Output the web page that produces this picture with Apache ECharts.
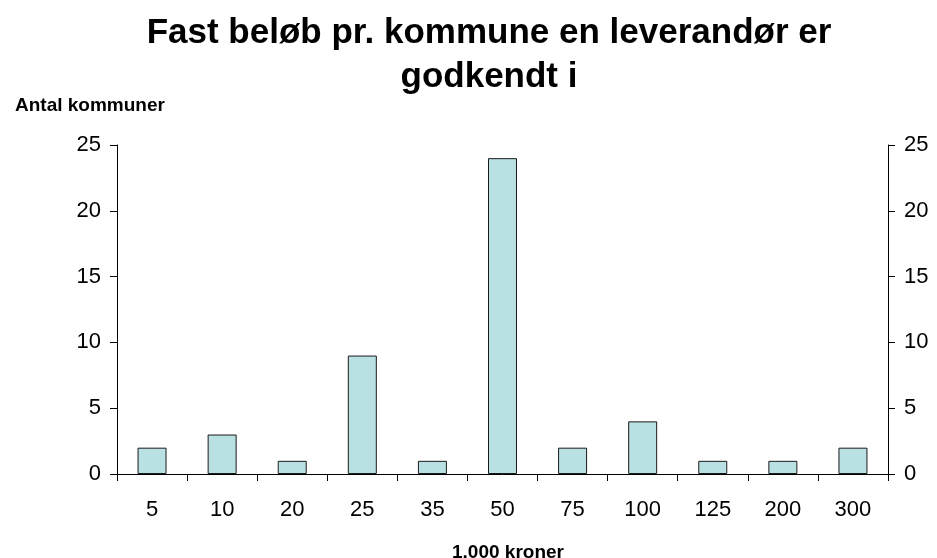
<!DOCTYPE html>
<html><head><meta charset="utf-8">
<script src="https://cdn.jsdelivr.net/npm/echarts@6/dist/echarts.min.js"></script>
<style>html,body{margin:0;padding:0;background:#fff}#c{width:937px;height:558px}</style>
</head><body><div id="c"></div>
<script>
const categories = ['5','10','20','25','35','50','75','100','125','200','300'];
const values = [2,3,1,9,1,24,2,4,1,1,2];
const yTicks = [0,5,10,15,20,25];

const chart = echarts.init(document.getElementById('c'));
const font = 'Liberation Sans, Arial, sans-serif';
const yAxisCommon = {
  type:'value', min:yTicks[0], max:yTicks[yTicks.length-1], interval:yTicks[1]-yTicks[0],
  axisLine:{show:true, lineStyle:{color:'#000', width:1}},
  axisTick:{show:true, inside:false, length:7, lineStyle:{color:'#000'}},
  splitLine:{show:false},
  axisLabel:{fontFamily:font, fontSize:22, color:'#000', margin:16}
};
chart.setOption({
  animation:false,
  title:[{
    text:'Fast beløb pr. kommune en leverandør er\ngodkendt i',
    left:484, top:6, textAlign:'center',
    textStyle:{fontFamily:font, fontSize:35, fontWeight:'bold', color:'#000', lineHeight:44}
  },{
    text:'Antal kommuner', left:10, top:91,
    textStyle:{fontFamily:font, fontSize:19, fontWeight:'bold', color:'#000'}
  },{
    text:'1.000 kroner', left:503, top:538, textAlign:'center',
    textStyle:{fontFamily:font, fontSize:19, fontWeight:'bold', color:'#000'}
  }],
  grid:{left:117, right:49, top:145, bottom:84, containLabel:false},
  xAxis:{
    type:'category', data:categories,
    axisLine:{lineStyle:{color:'#000'}},
    axisTick:{show:true, alignWithLabel:false, length:7, lineStyle:{color:'#000'}},
    axisLabel:{fontFamily:font, fontSize:22, color:'#000', margin:25}
  },
  yAxis:[
    Object.assign({}, yAxisCommon, {position:'left'}),
    Object.assign({}, yAxisCommon, {position:'right'})
  ],
  series:[{
    type:'bar', data:values, barWidth:29, yAxisIndex:0,
    itemStyle:{color:'#B9E0E3', borderColor:'#1a1a1a', borderWidth:1}
  }]
});
</script></body></html>
